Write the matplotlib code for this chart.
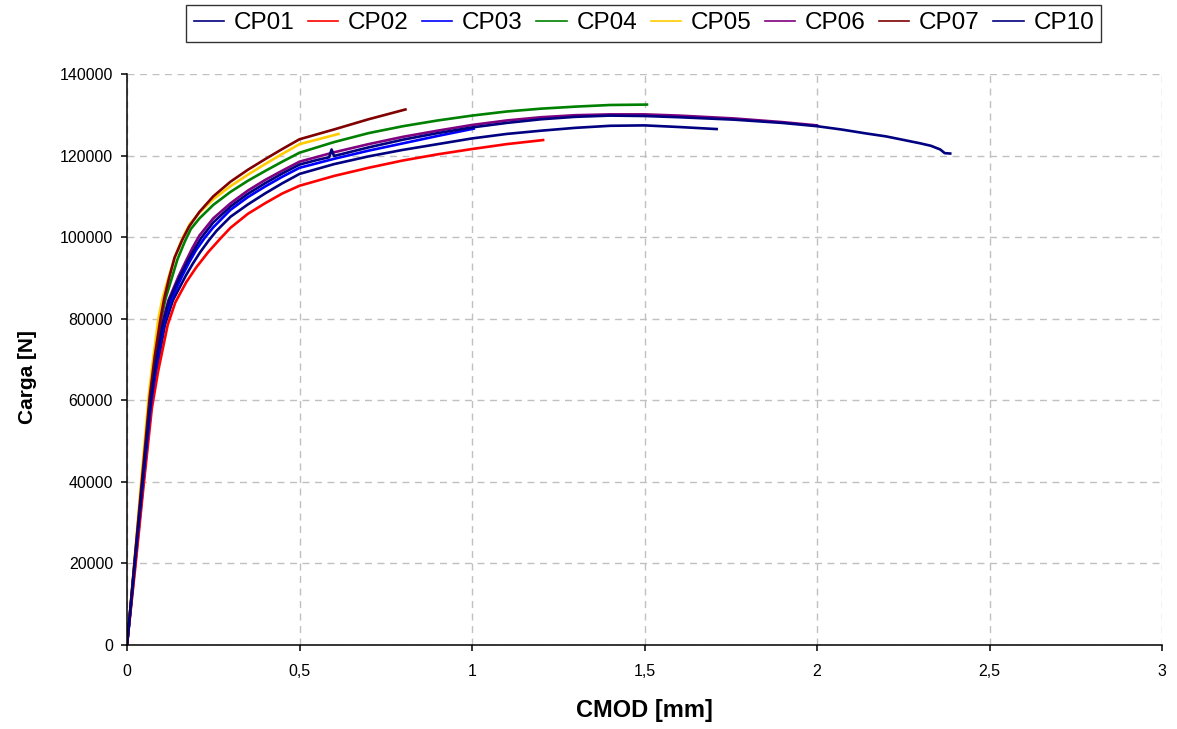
import numpy as np
import matplotlib
matplotlib.use("Agg")
import matplotlib.pyplot as plt
from matplotlib.ticker import FuncFormatter, MultipleLocator

plt.rcParams['font.family'] = ['Liberation Sans', 'DejaVu Sans']

# CMOD [mm] / Carga [N]
cp01_x = [0, 0.011, 0.023, 0.047, 0.071, 0.087, 0.11, 0.133, 0.17, 0.19, 0.212, 0.237, 0.26,
          0.3, 0.35, 0.4, 0.45, 0.5, 0.6, 0.7, 0.8, 0.9, 1.0, 1.1, 1.2, 1.3, 1.4, 1.5, 1.6, 1.709]
cp01_y = [0, 9300, 19300, 39500, 59000, 68000, 78500, 84500, 90500, 93400, 96300, 99200, 101600,
          105000, 108000, 110700, 113200, 115500, 117900, 119800, 121400, 122800, 124200, 125300,
          126100, 126800, 127300, 127400, 127000, 126500]

cp02_x = [0, 0.012, 0.024, 0.048, 0.072, 0.09, 0.118, 0.14, 0.172, 0.2, 0.235, 0.27, 0.3, 0.35,
          0.4, 0.45, 0.5, 0.6, 0.7, 0.8, 0.9, 1.0, 1.1, 1.206]
cp02_y = [0, 9500, 19000, 39000, 58000, 67000, 78500, 84000, 89000, 92500, 96300, 99600, 102300,
          105700, 108300, 110700, 112600, 115000, 117000, 118800, 120300, 121600, 122800, 123800]

cp03_x = [0, 0.011, 0.022, 0.046, 0.07, 0.085, 0.107, 0.127, 0.16, 0.18, 0.2, 0.225, 0.25, 0.3,
          0.35, 0.4, 0.45, 0.5, 0.6, 0.7, 0.8, 0.9, 1.005]
cp03_y = [0, 9500, 19500, 40000, 59500, 68500, 79000, 84500, 90500, 93800, 96800, 99800, 102400,
          106700, 109800, 112400, 114800, 117000, 119200, 121200, 123000, 124800, 126600]

cp04_x = [0, 0.011, 0.022, 0.044, 0.066, 0.08, 0.099, 0.112, 0.13, 0.146, 0.168, 0.185, 0.21,
          0.25, 0.3, 0.35, 0.4, 0.45, 0.5, 0.6, 0.7, 0.8, 0.9, 1.0, 1.1, 1.2, 1.3, 1.4, 1.507]
cp04_y = [0, 10000, 20500, 41000, 60500, 70000, 80000, 85000, 90000, 94500, 99000, 102000, 104600,
          107900, 111100, 113800, 116200, 118500, 120700, 123300, 125500, 127200, 128600, 129800,
          130800, 131500, 132000, 132400, 132500]

cp05_x = [0, 0.011, 0.022, 0.043, 0.064, 0.077, 0.091, 0.103, 0.12, 0.138, 0.162, 0.182, 0.21,
          0.25, 0.3, 0.35, 0.4, 0.45, 0.5, 0.55, 0.613]
cp05_y = [0, 10500, 21000, 42000, 62000, 71000, 80000, 85000, 90000, 95000, 100000, 103200, 106000,
          109300, 112500, 115300, 117900, 120400, 122800, 123900, 125300]

cp06_x = [0, 0.011, 0.022, 0.045, 0.067, 0.082, 0.102, 0.12, 0.15, 0.17, 0.19, 0.21, 0.25, 0.3,
          0.35, 0.4, 0.45, 0.5, 0.6, 0.7, 0.8, 0.9, 1.0, 1.1, 1.2, 1.3, 1.4, 1.5, 1.6, 1.76, 1.9, 2.0]
cp06_y = [0, 10000, 20000, 40500, 60000, 69500, 79000, 84500, 90500, 94000, 97400, 100400, 104600,
          108300, 111400, 114000, 116300, 118500, 120800, 122800, 124600, 126100, 127500, 128600,
          129400, 129900, 130100, 130100, 129800, 129100, 128200, 127400]

cp07_x = [0, 0.011, 0.022, 0.044, 0.066, 0.08, 0.097, 0.108, 0.122, 0.138, 0.16, 0.18, 0.21, 0.25,
          0.3, 0.35, 0.4, 0.45, 0.5, 0.6, 0.7, 0.807]
cp07_y = [0, 10000, 20500, 41000, 61000, 70500, 80000, 85000, 90000, 95000, 99300, 102600, 106200,
          110000, 113600, 116500, 119100, 121600, 124000, 126400, 128900, 131300]

cp10_x = [0, 0.011, 0.022, 0.045, 0.068, 0.083, 0.103, 0.122, 0.154, 0.175, 0.195, 0.215, 0.25,
          0.3, 0.35, 0.4, 0.45, 0.5, 0.55, 0.586, 0.593, 0.6, 0.7, 0.8, 0.9, 1.0, 1.1, 1.2, 1.3,
          1.4, 1.5, 1.6, 1.76, 1.9, 2.0, 2.07, 2.144, 2.2, 2.241, 2.299, 2.33, 2.357, 2.37, 2.386]
cp10_y = [0, 9800, 19800, 40000, 59500, 69000, 78500, 84500, 90500, 94000, 97000, 99800, 103600,
          107500, 110600, 113200, 115600, 117800, 118900, 119600, 121500, 119900, 122000, 123900,
          125500, 126900, 128000, 128900, 129500, 129800, 129700, 129400, 128800, 128000, 127200,
          126400, 125400, 124700, 124000, 123000, 122400, 121500, 120600, 120500]

labels = ['CP01', 'CP02', 'CP03', 'CP04', 'CP05', 'CP06', 'CP07', 'CP10']
colors = ['#000080', '#FF0000', '#0000FF', '#008000', '#FFCC00', '#800080', '#800000', '#000080']
series = [(cp01_x, cp01_y), (cp02_x, cp02_y), (cp03_x, cp03_y), (cp04_x, cp04_y),
          (cp05_x, cp05_y), (cp06_x, cp06_y), (cp07_x, cp07_y), (cp10_x, cp10_y)]

fig = plt.figure(figsize=(11.77, 7.29), dpi=100)
ax = fig.add_axes([0.1079, 0.1152, 0.8794, 0.7833])

for (x, y), lab, c in zip(series, labels, colors):
    ax.plot(x, y, color=c, lw=1.9, label=lab, solid_joinstyle='round')

ax.set_xlim(0, 3)
ax.set_ylim(0, 140000)
ax.xaxis.set_major_locator(MultipleLocator(0.5))
ax.yaxis.set_major_locator(MultipleLocator(20000))
ax.xaxis.set_major_formatter(FuncFormatter(lambda v, p: ('%g' % v).replace('.', ',')))
ax.yaxis.set_major_formatter(FuncFormatter(lambda v, p: '%d' % v))

ax.grid(True, color='#C0C0C0', lw=1.0, linestyle=(0, (5, 4)))
ax.set_axisbelow(True)
for side in ['top', 'right']:
    ax.spines[side].set_visible(False)
for side in ['left', 'bottom']:
    ax.spines[side].set_linewidth(1.1)
ax.tick_params(direction='out', length=4, width=1.1, labelsize=11.5)
ax.tick_params(axis='x', pad=10)
ax.tick_params(axis='y', pad=6)

ax.set_xlabel('CMOD [mm]', fontsize=17, fontweight='bold', labelpad=14)
ax.set_ylabel('Carga [N]', fontsize=15, fontweight='bold')
ax.yaxis.set_label_coords(-0.087, 0.47)

leg = fig.legend(loc='upper center', bbox_to_anchor=(0.547, 0.993), ncol=8, fontsize=17.5,
                 frameon=True, fancybox=False, edgecolor='black', handlelength=1.25,
                 handletextpad=0.4, columnspacing=0.55, borderpad=0.3, borderaxespad=0)
leg.get_frame().set_linewidth(1.0)
for line in leg.get_lines():
    line.set_linewidth(1.2)

fig.savefig('out.png', dpi=100)
